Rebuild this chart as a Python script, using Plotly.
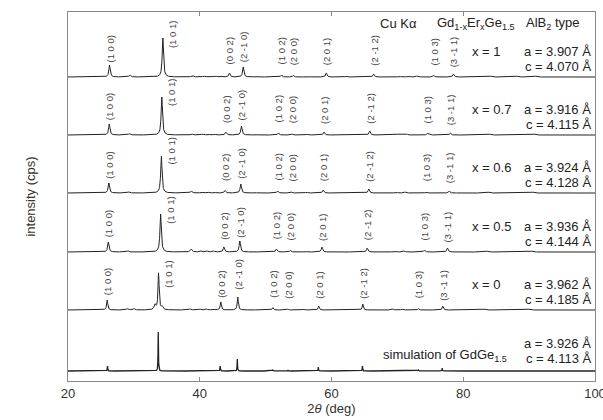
import numpy as np
import plotly.graph_objects as go

# ---- data -------------------------------------------------------------
x_ticks = [20, 40, 60, 80, 100]

reflections = ["(1 0 0)", "(1 0 1)", "(0 0 2)", "(2 -1 0)", "(1 0 2)",
               "(2 0 0)", "(2 0 1)", "(2 -1 2)", "(1 0 3)", "(3 -1 1)"]

compositions = ["x = 1", "x = 0.7", "x = 0.6", "x = 0.5", "x = 0", ""]
lattice_a = ["3.907", "3.916", "3.924", "3.936", "3.962", "3.926"]
lattice_c = ["4.070", "4.115", "4.128", "4.144", "4.185", "4.113"]

# vertical offset of each pattern (stacked display)
offsets = [304, 246, 188, 129, 71, 10]

# indexed reflections: 2theta (deg) and peak intensity (arb. units)
pos_x1 = [26.3, 34.4, 44.5, 46.6, 52.4, 54.2, 59.2, 66.4, 75.5, 78.5]
int_x1 = [12, 39, 4, 10, 2, 1.5, 4, 3, 1.5, 3]

pos_x07 = [26.26, 34.24, 43.97, 46.33, 51.94, 54.04, 58.86, 65.8, 74.57, 78.03]
int_x07 = [11, 38, 3, 9, 2, 1, 3, 4, 1.5, 2]

pos_x06 = [26.2, 34.17, 43.83, 46.23, 51.82, 53.93, 58.74, 65.66, 74.38, 77.87]
int_x06 = [10, 37, 2.5, 9, 2, 1, 3, 4, 1, 2]

pos_x05 = [26.12, 34.06, 43.66, 46.08, 51.63, 53.76, 58.55, 65.42, 74.1, 77.6]
int_x05 = [10, 38, 5, 11, 3, 1.5, 5, 4, 2, 4]

pos_x0 = [25.95, 33.75, 43.2, 45.77, 51.08, 53.36, 58.06, 64.75, 73.18, 76.9]
int_x0 = [10, 37, 8, 13, 2.5, 1, 4, 6, 1.5, 4]

pos_sim = [26.0, 33.7, 43.1, 45.7, 51.1, 53.4, 58.0, 64.7, 73.2, 76.8]
int_sim = [5, 39, 5, 12, 1, 1, 4, 5, 1, 3]

# weak unindexed features on the experimental baselines
minor_x1 = ([29.4, 38.9, 40.6, 41.5, 42.4, 43.2, 48.6, 56.4, 62.2, 70.3, 71.6, 73.0, 84.2, 88.1, 91.0],
            [2, 1.5, 1, 1, 1, 1, 0.8, 0.8, 0.8, 0.8, 1, 1, 0.8, 0.8, 0.8])
minor_x07 = ([29.3, 38.8, 40.4, 41.3, 42.3, 48.4, 56.3, 70.0, 71.4, 84.0, 90.8],
             [1.5, 1.2, 1, 1, 0.8, 0.8, 0.8, 0.8, 1, 0.8, 0.8])
minor_x06 = ([29.2, 38.7, 40.3, 41.2, 42.2, 48.3, 56.2, 69.8, 71.2, 83.8, 90.6],
             [1.2, 2, 1, 1, 1, 0.8, 0.8, 1, 1, 0.8, 0.8])
minor_x05 = ([29.1, 38.7, 40.2, 41.1, 42.1, 48.2, 56.0, 69.6, 71.0, 83.6, 90.4],
             [1.2, 3, 1, 1, 1, 0.8, 0.8, 1, 1, 0.8, 0.8])
minor_x0 = ([29.0, 30.0, 33.2, 34.3, 38.5, 40.0, 41.0, 42.0, 47.9, 55.7, 69.3, 70.7, 83.2, 90.0],
            [1.5, 1.5, 5, 3, 1.2, 1, 1, 1, 0.8, 0.8, 1, 1, 0.8, 0.8])
minor_sim = ([], [])

patterns = [
    (pos_x1, int_x1, minor_x1, 0.12),
    (pos_x07, int_x07, minor_x07, 0.12),
    (pos_x06, int_x06, minor_x06, 0.12),
    (pos_x05, int_x05, minor_x05, 0.12),
    (pos_x0, int_x0, minor_x0, 0.10),
    (pos_sim, int_sim, minor_sim, 0.035),
]

# height of the hkl label centres above each baseline
label_lift = [28, 42, 26, 30, 26, 25, 25, 27, 25, 25]

# ---- figure -----------------------------------------------------------
FONT = "Liberation Sans, Arial, sans-serif"
LINE = "#222222"
FRAME = "#8a8a8a"

grid = np.arange(20.0, 100.0001, 0.02)


def profile(pos, amp, hw):
    y = np.zeros_like(grid)
    for p, h in zip(pos, amp):
        y += h / (1.0 + ((grid - p) / hw) ** 2)
    return y


fig = go.Figure()

for i, (pos, amp, minor, hw) in enumerate(patterns):
    y = offsets[i] + profile(pos, amp, hw)
    if minor[0]:
        y = y + profile(minor[0], minor[1], 0.15)
    fig.add_trace(go.Scatter(
        x=grid, y=y, mode="lines",
        line=dict(color=LINE, width=1.3 if i == 5 else 1.0),
        hoverinfo="skip", showlegend=False,
    ))

# hkl labels above the reflections of the experimental patterns
for i in range(5):
    pos = patterns[i][0]
    for j, name in enumerate(reflections):
        xx = pos[j] + (1.4 if j == 1 else 0.0)
        lift = label_lift[j]
        if i == 4 and j in (1, 3):
            lift = 36
        fig.add_annotation(
            x=xx, y=offsets[i] + lift, xref="x", yref="y",
            text=name, textangle=-90, showarrow=False,
            font=dict(family=FONT, size=9.5, color="#444444"),
        )

# composition and lattice parameters
for i in range(6):
    base = offsets[i]
    if compositions[i]:
        fig.add_annotation(
            x=81.0, y=base + 26, xref="x", yref="y", xanchor="left",
            text=compositions[i], showarrow=False,
            font=dict(family=FONT, size=13, color="#222222"),
        )
    lift_a, lift_c = (26, 11) if i < 5 else (28, 13)
    fig.add_annotation(
        x=99.7, y=base + lift_a, xref="x", yref="y", xanchor="right",
        text="a = " + lattice_a[i] + " Å", showarrow=False,
        font=dict(family=FONT, size=13, color="#222222"),
    )
    fig.add_annotation(
        x=99.7, y=base + lift_c, xref="x", yref="y", xanchor="right",
        text="c = " + lattice_c[i] + " Å", showarrow=False,
        font=dict(family=FONT, size=13, color="#222222"),
    )

fig.add_annotation(
    x=86.9, y=offsets[5] + 16, xref="x", yref="y", xanchor="right",
    text="simulation of GdGe<sub>1.5</sub>", showarrow=False,
    font=dict(family=FONT, size=13, color="#222222"),
)

# header line
for xx, txt in [(70.2, "Cu Kα"),
                (82.0, "Gd<sub>1-x</sub>Er<sub>x</sub>Ge<sub>1.5</sub>"),
                (93.5, "AlB<sub>2</sub> type")]:
    fig.add_annotation(
        x=xx, y=358, xref="x", yref="y",
        text=txt, showarrow=False,
        font=dict(family=FONT, size=13, color="#222222"),
    )

fig.update_layout(
    width=603, height=420,
    margin=dict(l=68, r=8, t=12, b=39),
    paper_bgcolor="white", plot_bgcolor="white",
    font=dict(family=FONT, size=13, color="#222222"),
    showlegend=False,
)
fig.update_xaxes(
    range=[20, 100], tickvals=x_ticks, ticktext=[str(v) for v in x_ticks],
    ticklabeloverflow="allow", automargin=False,
    showline=True, linecolor=FRAME, linewidth=1, mirror="ticks",
    ticks="inside", ticklen=4, tickcolor=FRAME,
    showgrid=False, zeroline=False,
    tickfont=dict(family=FONT, size=13, color="#333333"),
    title=dict(text="2<i>θ</i> (deg)", standoff=4,
               font=dict(family=FONT, size=13, color="#333333")),
)
fig.update_yaxes(
    range=[0, 369], showticklabels=False, ticks="", automargin=False,
    showline=True, linecolor=FRAME, linewidth=1, mirror=True,
    showgrid=False, zeroline=False,
    title=dict(text="intensity (cps)", standoff=28,
               font=dict(family=FONT, size=13, color="#333333")),
)

fig.write_html("out.html")
